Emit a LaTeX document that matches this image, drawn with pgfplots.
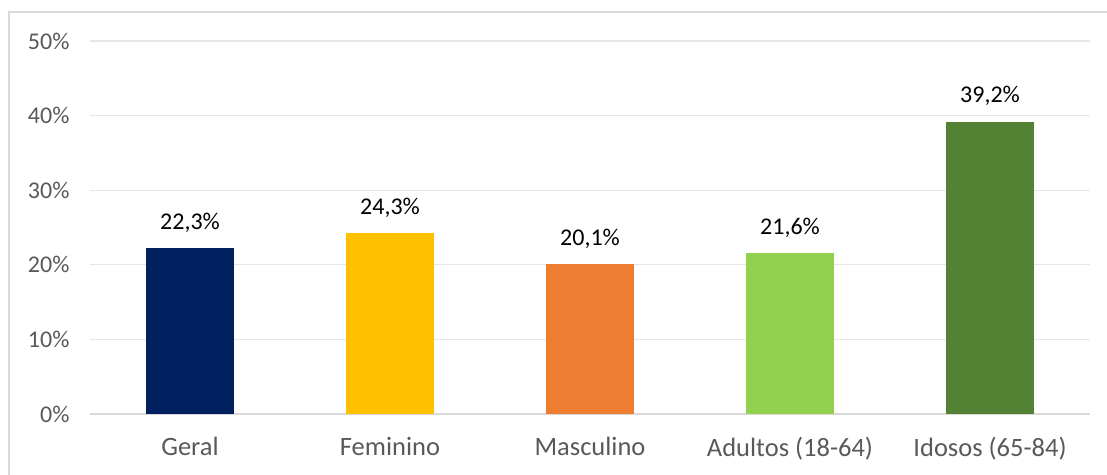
\documentclass[border=0pt]{standalone}
\usepackage{pgfplots}
\pgfplotsset{compat=1.18}
\usepackage{fontspec}
\setmainfont{Carlito}
\definecolor{cnavy}{HTML}{002060}
\definecolor{cgold}{HTML}{FFC000}
\definecolor{corange}{HTML}{ED7D31}
\definecolor{clgreen}{HTML}{92D050}
\definecolor{cdgreen}{HTML}{548235}
\definecolor{tickgray}{HTML}{595959}
\definecolor{gridgray}{HTML}{E6E6E6}
\definecolor{framegray}{HTML}{D9D9D9}
\begin{document}
\begin{tikzpicture}
\useasboundingbox (0pt,0pt) rectangle (1107pt,474pt);
\draw[framegray, line width=1.5pt] (9pt,-20pt) -- (9pt,462pt) -- (1130pt,462pt);
\begin{axis}[
  at={(90pt,60pt)}, anchor=south west,
  scale only axis,
  width=1000pt, height=373pt,
  xmin=-0.5, xmax=4.5, ymin=0, ymax=50,
  ytick={0,10,20,30,40,50},
  xtick={0,1,2,3,4},
  xticklabels={Geral,Feminino,Masculino,{Adultos (18-64)},{Idosos (65-84)}},
  yticklabel={\pgfmathprintnumber{\tick}\%},
  /pgf/number format/assume math mode=true,
  axis x line*=bottom,
  axis y line*=left,
  y axis line style={draw=none},
  x axis line style={framegray, line width=1.2pt, -},
  ymajorgrids,
  grid style={gridgray, line width=1.2pt},
  major tick length=0pt,
  tick style={draw=none},
  yticklabel style={font=\fontsize{24}{28}\selectfont, text=tickgray, xshift=-17pt},
  xticklabel style={font=\fontsize{26.5}{30}\selectfont, text=tickgray, yshift=-20pt},
  ybar, bar width=88pt, bar shift=0pt,
  nodes near coords={\pgfmathprintnumber[fixed,fixed zerofill,precision=1,use comma]{\pgfplotspointmeta}\%},
  nodes near coords style={font=\fontsize{24}{28}\selectfont, text=black, anchor=south, yshift=12pt},
  clip=false,
]
\addplot[fill=cnavy, draw=none] coordinates {(0,22.3)};
\addplot[fill=cgold, draw=none] coordinates {(1,24.3)};
\addplot[fill=corange, draw=none] coordinates {(2,20.1)};
\addplot[fill=clgreen, draw=none] coordinates {(3,21.6)};
\addplot[fill=cdgreen, draw=none] coordinates {(4,39.2)};
\end{axis}
\end{tikzpicture}
\end{document}
